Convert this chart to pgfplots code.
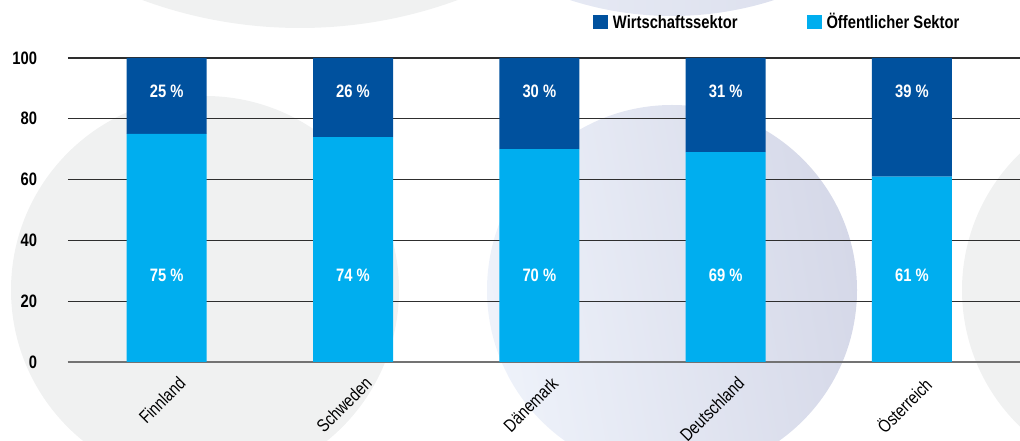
\documentclass[border=0pt]{standalone}
\usepackage{fontspec}
\setmainfont{Liberation Sans}[FakeStretch=0.82]
\usepackage{pgfplots}
\pgfplotsset{compat=1.18}
\definecolor{wirt}{HTML}{00519E}
\definecolor{oeff}{HTML}{00AEEF}
\definecolor{bggrey}{HTML}{F0F1F1}
\definecolor{lav}{HTML}{D5D8E8}
\definecolor{lavlight}{HTML}{EEF2FA}
\begin{document}
\fontsize{13.5pt}{16pt}\selectfont
\begin{tikzpicture}
% decorative background circles
\fill[bggrey] (174pt,593.25pt) circle (342.75pt);
\fill[bggrey] (102.75pt,54pt) circle (145.5pt);
\fill[bggrey] (813pt,54pt) circle (142.5pt);
\shade[left color=lavlight, right color=lav, shading angle=100] (453pt,54pt) circle (138.75pt);
\shade[left color=lavlight, right color=lav] (453pt,509.25pt) circle (249.75pt);
\begin{axis}[
  at={(0,0)}, anchor=south west,
  scale only axis, width=714pt, height=228pt,
  ybar stacked, bar width=60pt,
  xmin=-0.53, xmax=4.58, ymin=0, ymax=100,
  xtick={0,1,2,3,4},
  xticklabels={Finnland,Schweden,Dänemark,Deutschland,Österreich},
  ytick={0,20,40,60,80,100},
  /pgf/number format/assume math mode=true,
  axis x line*=bottom, axis y line*=left,
  x axis line style={draw=black!55, line width=1.2pt},
  y axis line style={draw=none},
  major tick length=0pt,
  ymajorgrids, grid style={draw=black!82, line width=0.8pt},
  yticklabel style={font=\bfseries, anchor=east, inner sep=0pt, xshift=-23pt},
  xticklabel style={xshift=8pt, yshift=-10pt, rotate=45, anchor=north east, inner sep=0pt},
  legend columns=2,
  legend style={at={(axis description cs:0.5515,1.117)}, anchor=west, draw=none, fill=none,
    inner sep=0pt, font=\bfseries, nodes={inner sep=0pt},
    /tikz/every odd column/.append style={column sep=3.5pt},
    /tikz/every even column/.append style={column sep=52pt}},
  legend image code/.code={\fill[#1] (0pt,-4.85pt) rectangle (11.25pt,5.65pt);},
]
\addlegendimage{fill=wirt, draw=none}
\addlegendentry{\vphantom{Ö}Wirtschaftssektor}
\addlegendimage{fill=oeff, draw=none}
\addlegendentry{Öffentlicher Sektor}
\addplot[fill=oeff, draw=none, forget plot] coordinates {(0,75) (1,74) (2,70) (3,69) (4,61)};
\addplot[fill=wirt, draw=none, forget plot] coordinates {(0,25) (1,26) (2,30) (3,31) (4,39)};
\pgfplotsinvokeforeach{0,...,4}{
  \coordinate (lo#1) at (axis cs:#1,28.6);
  \coordinate (hi#1) at (axis cs:#1,89.1);
}
\end{axis}
\foreach \i/\a/\b in {0/75/25,1/74/26,2/70/30,3/69/31,4/61/39}{
  \node[font=\bfseries, text=white] at (lo\i) {\a\ \%};
  \node[font=\bfseries, text=white] at (hi\i) {\b\ \%};
}
\pgfresetboundingbox
\path (-51pt,-59.25pt) rectangle (714pt,271.5pt);
\end{tikzpicture}
\end{document}
